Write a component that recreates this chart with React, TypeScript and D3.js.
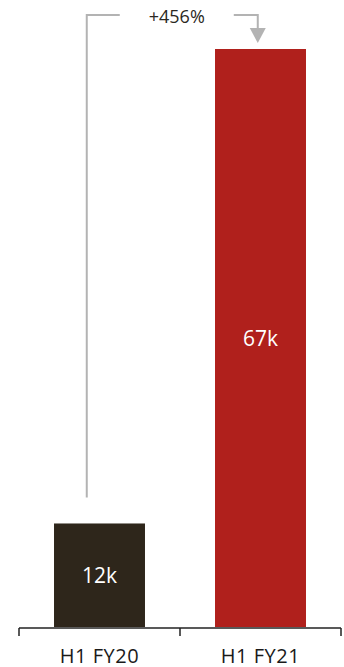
import React from "react";
import * as d3 from "d3";

const categories = ["H1 FY20", "H1 FY21"];
const values = [12, 67];
const valueLabels = ["12k", "67k"];
const barColors = ["#2e261b", "#b0201c"];
const changeLabel = "+456%";

const W = 344;
const H = 667;

export default function App() {
  const x = d3
    .scaleBand<string>()
    .domain(categories)
    .range([19, 341])
    .paddingInner(0.435)
    .paddingOuter(0.2175);
  const y = d3.scaleLinear().domain([0, 67]).range([627, 49]);
  const step = x.step();
  const font = "'Open Sans', 'Liberation Sans', sans-serif";

  const x0 = x(categories[0])!;
  const x1 = x(categories[1])!;
  const bw = x.bandwidth();
  const lx = x0 + bw * 0.36;
  const rx = x1 + bw * 0.47;
  const topY = 15;
  const arrowTip = y(values[1]) - 6;
  const grey = "#b3b3b3";

  return (
    <svg
      width={W}
      height={H}
      style={{ position: "absolute", left: 0, top: 0, display: "block" }}
    >
      {categories.map((c, i) => (
        <g key={c}>
          <rect
            x={x(c)}
            y={y(values[i])}
            width={bw}
            height={y(0) - y(values[i])}
            fill={barColors[i]}
          />
          <text
            x={x(c)! + bw / 2}
            y={(y(values[i]) + y(0)) / 2}
            textAnchor="middle"
            dominantBaseline="central"
            fill="#ffffff"
            fontFamily={font}
            fontSize={21}
          >
            {valueLabels[i]}
          </text>
          <text
            x={x(c)! + bw / 2}
            y={655}
            textAnchor="middle"
            dominantBaseline="central"
            fill="#1a1a1a"
            fontFamily={font}
            fontSize={20}
            letterSpacing={0.5}
          >
            {c}
          </text>
        </g>
      ))}
      {/* axis */}
      <line x1={19} x2={341} y1={628} y2={628} stroke="#222" strokeWidth={1.5} />
      {[0, 1, 2].map((k) => (
        <line
          key={k}
          x1={19 + k * step}
          x2={19 + k * step}
          y1={628}
          y2={636}
          stroke="#222"
          strokeWidth={1.5}
        />
      ))}
      {/* annotation */}
      <path
        d={`M${lx},${y(values[0]) - 26} V${topY} H${lx + 33}`}
        fill="none"
        stroke={grey}
        strokeWidth={2}
      />
      <path
        d={`M${rx - 24},${topY} H${rx} V${arrowTip - 14}`}
        fill="none"
        stroke={grey}
        strokeWidth={2}
      />
      <path
        d={`M${rx - 8},${arrowTip - 15} L${rx + 8},${arrowTip - 15} L${rx},${arrowTip} Z`}
        fill={grey}
      />
      <text
        x={(lx + 33 + rx - 24) / 2}
        y={topY + 1}
        textAnchor="middle"
        dominantBaseline="central"
        fill="#2b2822"
        fontFamily={font}
        fontSize={18}
      >
        {changeLabel}
      </text>
    </svg>
  );
}
